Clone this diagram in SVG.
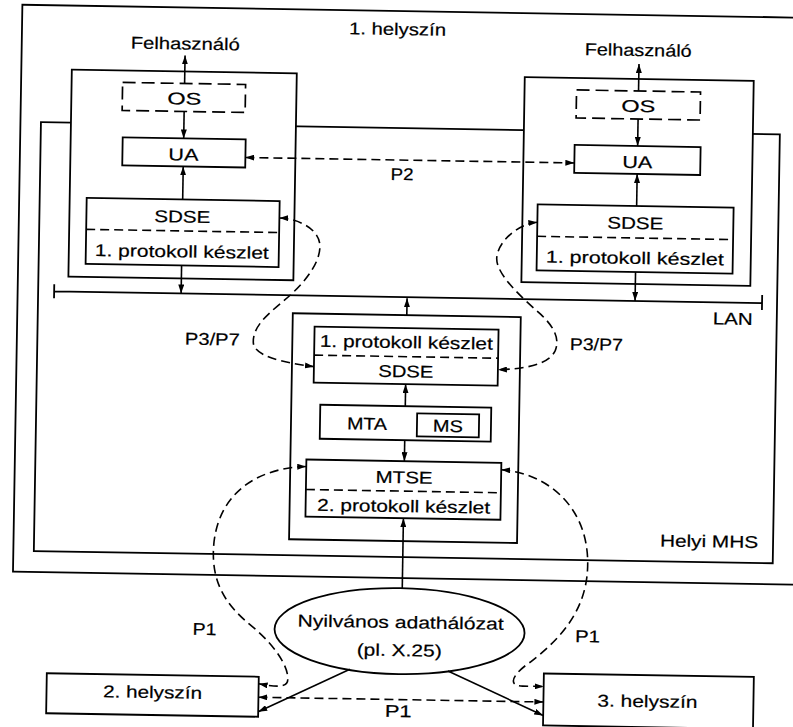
<svg xmlns="http://www.w3.org/2000/svg" width="793" height="727" viewBox="0 0 793 727">
<defs>
<style>
.b{fill:#fff;stroke:#000;stroke-width:1.8}
.n{fill:none;stroke:#000;stroke-width:1.8}
.db{fill:#fff;stroke:#000;stroke-width:1.7;stroke-dasharray:13 6}
.dv{fill:none;stroke:#000;stroke-width:1.6;stroke-dasharray:9 5}
.c{fill:none;stroke:#000;stroke-width:1.6}
.t{font-family:"Liberation Sans",Arial,"DejaVu Sans",sans-serif;font-size:17px;fill:#000;stroke:#000;stroke-width:0.2;text-anchor:middle}
</style>
<marker id="ah" viewBox="0 0 9 6" refX="9" refY="3" markerWidth="9" markerHeight="6" markerUnits="userSpaceOnUse" orient="auto-start-reverse">
<path d="M0,0 L9,3 L0,6 z" fill="#000" stroke="none"/>
</marker>
</defs>
<rect x="0" y="0" width="793" height="727" fill="#fff"/>
<g transform="rotate(0.95 396 363)">
<g id="site1">
<rect class="n" x="16.5" y="11" width="800" height="567"/>
<text class="t" x="392" y="35" textLength="97" lengthAdjust="spacingAndGlyphs">1. helyszín</text>
</g>
<g id="helyi-mhs">
<rect class="n" x="37" y="128" width="739" height="429"/>
<text class="t" x="712" y="542" textLength="98" lengthAdjust="spacingAndGlyphs">Helyi MHS</text>
</g>
<g id="lan">
<path class="n" d="M53,297 H761 M53,290 V304 M761,289 V304"/>
<text class="t" x="732" y="319" textLength="40" lengthAdjust="spacingAndGlyphs">LAN</text>
</g>
<g id="user-left">
<rect class="b" x="67" y="75" width="225" height="207"/>
<text class="t" x="180" y="53" textLength="109" lengthAdjust="spacingAndGlyphs">Felhasználó</text>
<rect class="db" x="118" y="87" width="123" height="28"/>
<text class="t" x="180" y="108" textLength="34" lengthAdjust="spacingAndGlyphs">OS</text>
<rect class="b" x="119" y="142" width="123" height="28"/>
<text class="t" x="180" y="164" textLength="30" lengthAdjust="spacingAndGlyphs">UA</text>
<rect class="b" x="84" y="203" width="193" height="66"/>
<path class="dv" d="M84,234.5 H277"/>
<text class="t" x="180" y="226" textLength="56" lengthAdjust="spacingAndGlyphs">SDSE</text>
<text class="t" x="180" y="261" textLength="174" lengthAdjust="spacingAndGlyphs">1. protokoll készlet</text>
</g>
<g id="user-right">
<rect class="b" x="520" y="75" width="229" height="205"/>
<text class="t" x="633" y="52" textLength="107" lengthAdjust="spacingAndGlyphs">Felhasználó</text>
<rect class="db" x="572" y="87" width="124" height="28"/>
<text class="t" x="634" y="108" textLength="34" lengthAdjust="spacingAndGlyphs">OS</text>
<rect class="b" x="571" y="142" width="126" height="28"/>
<text class="t" x="634" y="164" textLength="30" lengthAdjust="spacingAndGlyphs">UA</text>
<rect class="b" x="535" y="202" width="196" height="66"/>
<path class="dv" d="M535,234 H731"/>
<text class="t" x="633" y="225" textLength="56" lengthAdjust="spacingAndGlyphs">SDSE</text>
<text class="t" x="633" y="260" textLength="178" lengthAdjust="spacingAndGlyphs">1. protokoll készlet</text>
</g>
<g id="mta-node">
<rect class="b" x="292" y="315" width="228" height="226"/>
<rect class="b" x="314" y="328" width="184" height="56"/>
<path class="dv" d="M314,356.5 H498"/>
<text class="t" x="406" y="348" textLength="173" lengthAdjust="spacingAndGlyphs">1. protokoll készlet</text>
<text class="t" x="406" y="377" textLength="55" lengthAdjust="spacingAndGlyphs">SDSE</text>
<rect class="b" x="321" y="406" width="171" height="34"/>
<text class="t" x="368" y="430" textLength="40" lengthAdjust="spacingAndGlyphs">MTA</text>
<rect class="b" x="418" y="413" width="62" height="23"/>
<text class="t" x="449" y="431" textLength="30" lengthAdjust="spacingAndGlyphs">MS</text>
<rect class="b" x="308" y="461" width="195" height="57"/>
<path class="dv" d="M308,491 H503"/>
<text class="t" x="406" y="483" textLength="57" lengthAdjust="spacingAndGlyphs">MTSE</text>
<text class="t" x="406" y="512" textLength="173" lengthAdjust="spacingAndGlyphs">2. protokoll készlet</text>
</g>
<g id="network">
<ellipse class="b" cx="404" cy="631" rx="125" ry="43"/>
<text class="t" x="405" y="628" textLength="206" lengthAdjust="spacingAndGlyphs">Nyilvános adathálózat</text>
<text class="t" x="404" y="656" textLength="85" lengthAdjust="spacingAndGlyphs">(pl. X.25)</text>
</g>
<g id="site2">
<rect class="b" x="52" y="679" width="212" height="40"/>
<text class="t" x="158" y="702" textLength="99" lengthAdjust="spacingAndGlyphs">2. helyszín</text>
</g>
<g id="site3">
<rect class="b" x="549" y="671" width="210" height="52"/>
<text class="t" x="653" y="703" textLength="100" lengthAdjust="spacingAndGlyphs">3. helyszín</text>
</g>
<g id="connectors">
<path class="c" marker-end="url(#ah)" d="M180,87 V59"/>
<path class="c" marker-end="url(#ah)" d="M180,115 V142"/>
<path class="c" marker-end="url(#ah)" d="M180,203 V170"/>
<path class="c" marker-end="url(#ah)" d="M180,269 V297"/>
<path class="c" marker-end="url(#ah)" d="M634,87 V60"/>
<path class="c" marker-end="url(#ah)" d="M634,115 V142"/>
<path class="c" marker-end="url(#ah)" d="M634,202 V170"/>
<path class="c" marker-end="url(#ah)" d="M634,268 V297"/>
<path class="c" marker-end="url(#ah)" d="M406,315 V298"/>
<path class="c" marker-end="url(#ah)" d="M406,406 V384"/>
<path class="c" marker-end="url(#ah)" d="M406,440 V461"/>
<path class="c" marker-end="url(#ah)" d="M406,588 V518"/>
<path class="c" marker-end="url(#ah)" d="M355,670 L264,714"/>
<path class="c" marker-end="url(#ah)" d="M453,670 L549,713"/>
<path class="dv" marker-start="url(#ah)" marker-end="url(#ah)" d="M242,160 H571"/>
<path class="dv" marker-start="url(#ah)" marker-end="url(#ah)" d="M277,220 C295,220 318,230 318,248 C318,268 298,290 280,305 C265,318 252,330 253,345 C254,358 280,364 314,368"/>
<path class="dv" marker-start="url(#ah)" marker-end="url(#ah)" d="M535,220 C515,222 496,240 495,256 C494,272 520,295 540,312 C552,323 560,335 555,348 C549,362 525,367 498,368"/>
<path class="dv" marker-start="url(#ah)" marker-end="url(#ah)" d="M308,468 C260,470 222,495 217,545 C213,590 235,612 258,630 C280,648 293,668 293,680 C294,690 282,689 264,686"/>
<path class="dv" marker-start="url(#ah)" marker-end="url(#ah)" d="M503,468 C545,470 590,500 591,560 C592,610 560,640 535,660 C518,672 512,684 528,684 L549,684"/>
<path class="dv" marker-start="url(#ah)" marker-end="url(#ah)" d="M264,699.5 H549"/>
<text class="t" x="399" y="180" textLength="23" lengthAdjust="spacingAndGlyphs">P2</text>
<text class="t" x="212" y="348" textLength="55" lengthAdjust="spacingAndGlyphs">P3/P7</text>
<text class="t" x="596" y="347" textLength="53" lengthAdjust="spacingAndGlyphs">P3/P7</text>
<text class="t" x="209" y="638" textLength="24" lengthAdjust="spacingAndGlyphs">P1</text>
<text class="t" x="592" y="639" textLength="25" lengthAdjust="spacingAndGlyphs">P1</text>
<text class="t" x="404" y="717" textLength="27" lengthAdjust="spacingAndGlyphs">P1</text>
</g>
</g>
</svg>
